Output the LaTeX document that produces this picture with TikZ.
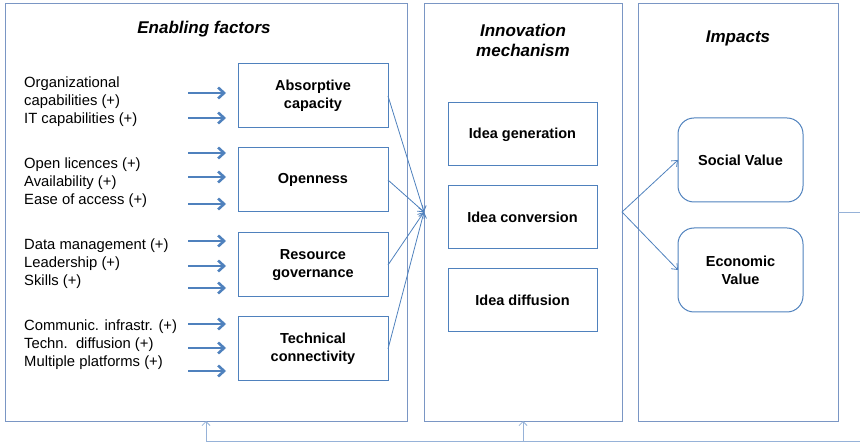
\documentclass[tikz,border=0pt]{standalone}
\usepackage{fontspec}
\setmainfont{Liberation Sans}
\usetikzlibrary{arrows.meta}
\definecolor{boxblue}{RGB}{79,129,189}
\definecolor{panelblue}{RGB}{122,150,196}
\definecolor{loopblue}{RGB}{150,178,216}
\tikzset{
  panel/.style={draw=panelblue, line width=0.8pt, minimum width=#1, minimum height=418pt, inner sep=0pt, outer sep=0pt},
  title/.style={font=\fontsize{17}{20}\selectfont\bfseries\itshape, align=center},
  factorbox/.style={draw=boxblue, line width=1pt, minimum width=150pt, minimum height=64pt, inner sep=0pt, outer sep=0pt, align=center, font=\fontsize{14.5}{18}\selectfont\bfseries},
  ideabox/.style={factorbox, minimum width=149pt, minimum height=63pt},
  valuebox/.style={factorbox, rounded corners=16pt, minimum width=125pt, minimum height=84pt},
  factors/.style={anchor=west, align=left, inner sep=0pt, font=\fontsize{14.8}{18}\selectfont},
  feed/.style={-{Straight Barb[length=6pt,width=11pt]}, draw=boxblue, line width=2.6pt},
  link/.style={-{Straight Barb[length=5pt,width=8pt]}, draw=boxblue, line width=0.8pt},
  loop/.style={draw=loopblue, line width=0.8pt}
}
\begin{document}
\begin{tikzpicture}[x=1pt, y=-1pt]
    \useasboundingbox (0,0) rectangle (860,443);
    \node [panel=402pt] (enab) at (206,212) {};
    \node [panel=198pt] (innov) at (523,212) {};
    \node [panel=200pt] (imp) at (738,212) {};
    \node [title] at (204,29) {Enabling factors};
    \node [title] at (523,40) {Innovation\\mechanism};
    \node [title] at (738,38) {Impacts};

    \node [factorbox] (absorb) at (313,96) {Absorptive\\capacity};
    \node [factorbox] (open) at (313,180) {Openness};
    \node [factorbox] (gov) at (313,265) {Resource\\governance};
    \node [factorbox] (tech) at (313,349) {Technical\\connectivity};

    \node [factors] (f1) at (24,102) {Organizational\\capabilities (+)\\IT capabilities (+)};
    \node [factors] (f2) at (24,183) {Open licences (+)\\Availability (+)\\Ease of access (+)};
    \node [factors] (f3) at (24,264) {Data management (+)\\Leadership (+)\\Skills (+)};
    \node [factors] (f4) at (24,345) {Communic. infrastr. (+)\\Techn.\ \ diffusion (+)\\Multiple platforms (+)};
    \foreach \y [count=\i] in {93,118,153,177,204,241,266,288,324,348,371}
        \draw [feed] (188,\y) coordinate (s\i) -- (226,\y) coordinate (e\i);

    \node [ideabox] (gen) at (522.5,134.5) {Idea generation};
    \node [ideabox] (conv) at (522.5,217) {Idea conversion};
    \node [ideabox] (diff) at (522.5,300) {Idea diffusion};

    \node [valuebox] (social) at (740.5,160) {Social Value};
    \node [valuebox] (econ) at (740.5,270) {Economic\\Value};

    \foreach \b in {absorb,open,gov,tech}
        \draw [link] (\b.east) -- (innov.west);
    \draw [link] (innov.east) -- (social.west);
    \draw [link] (innov.east) -- (econ.west);

    \coordinate (turn1) at (864,212);
    \coordinate (turn2) at (864,441);
    \draw [loop] (imp.east) -- (turn1) -- (turn2) -- (enab.south |- turn2);
    \draw [loop, -{Straight Barb[length=4pt,width=8pt]}] (enab.south |- turn2) -- (enab.south);
    \draw [loop, -{Straight Barb[length=4pt,width=8pt]}] (innov.south |- turn2) -- (innov.south);
\end{tikzpicture}
\end{document}
